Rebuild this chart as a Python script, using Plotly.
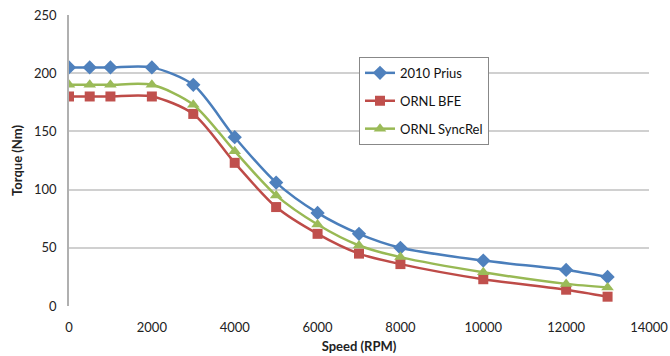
import plotly.graph_objects as go

# Torque vs. speed for three traction motor designs
speed_rpm = [0, 500, 1000, 2000, 3000, 4000, 5000, 6000, 7000, 8000, 10000, 12000, 13000]
prius_2010 = [205, 205, 205, 205, 190, 145, 106, 80, 62, 50, 39, 31, 25]
ornl_bfe = [180, 180, 180, 180, 165, 123, 85, 62, 45, 36, 23, 14, 8]
ornl_syncrel = [190, 190, 190, 190, 173, 133, 95, 70, 52, 42, 29, 19, 16]

x_ticks = [0, 2000, 4000, 6000, 8000, 10000, 12000, 14000]
y_ticks = [0, 50, 100, 150, 200, 250]

FONT = "Lato, 'Open Sans', sans-serif"

series = [
    ("2010 Prius", prius_2010, "#4A7EBB", "#4F81BD", "diamond", 11),
    ("ORNL BFE", ornl_bfe, "#BE4B48", "#C0504D", "square", 10),
    ("ORNL SyncRel", ornl_syncrel, "#98B954", "#9BBB59", "triangle-up", 11),
]

fig = go.Figure()
for i, (name, vals, lc, mc, sym, sz) in enumerate(series):
    fig.add_trace(go.Scatter(
        x=speed_rpm, y=vals, name=name, mode="lines+markers",
        line=dict(color=lc, width=2.5, shape="spline", smoothing=0.8),
        marker=dict(symbol=sym, size=sz, color=mc),
        legendgroup=f"g{i}",
    ))

fig.update_layout(
    width=670, height=356,
    margin=dict(l=69, r=21, t=15, b=50),
    paper_bgcolor="white", plot_bgcolor="white",
    font=dict(family=FONT, size=13, color="#222222"),
    showlegend=True,
    legend=dict(
        x=0.5, y=0.856, xanchor="left", yanchor="top",
        bgcolor="white", bordercolor="#888888", borderwidth=1,
        font=dict(family=FONT, size=13, color="#111111"),
        traceorder="grouped", tracegroupgap=8,
        itemwidth=30,
    ),
    xaxis=dict(
        range=[0, 14000], tickvals=x_ticks, ticktext=[str(v) for v in x_ticks],
        showgrid=False, zeroline=False, automargin=False,
        showline=False, ticks="outside", ticklen=9, tickcolor="rgba(0,0,0,0)",
        title=dict(text="<b>Speed (RPM)</b>", font=dict(family=FONT, size=13), standoff=8),
        tickfont=dict(family=FONT, size=13),
    ),
    yaxis=dict(
        range=[0, 250], tickvals=y_ticks, ticktext=[str(v) for v in y_ticks],
        showgrid=True, gridcolor="#D0D0D0", gridwidth=1.5, zeroline=False,
        showline=True, linecolor="#B0B0B0", linewidth=1.5, automargin=False,
        ticks="outside", ticklen=8, tickcolor="rgba(0,0,0,0)",
        title=dict(text="<b>Torque (Nm)</b>", font=dict(family=FONT, size=13), standoff=8),
        tickfont=dict(family=FONT, size=13),
    ),
)

fig.write_html("out.html")
